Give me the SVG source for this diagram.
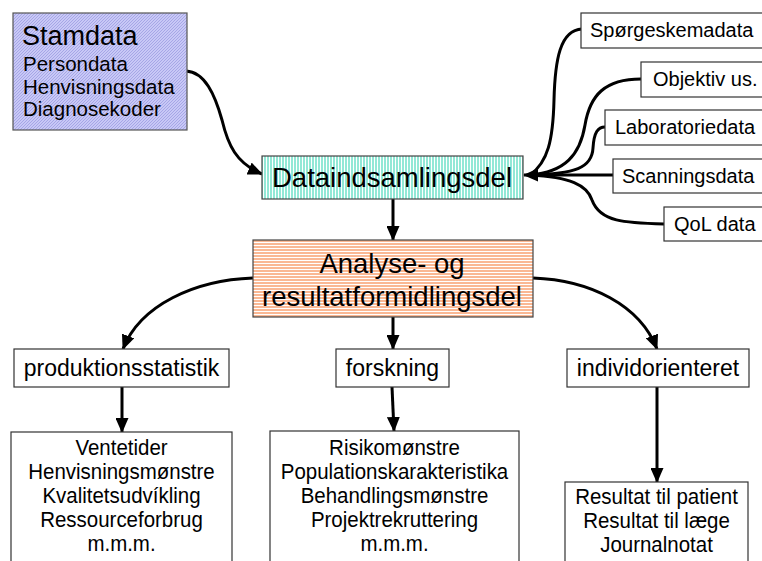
<svg xmlns="http://www.w3.org/2000/svg" width="762" height="561" viewBox="0 0 762 561">
  <style>
    text { font-family: "Liberation Sans", Arial, sans-serif; fill: #000; }
    .box { fill: #fff; stroke: #333; stroke-width: 1.2; }
    .wire { fill: none; stroke: #000; stroke-width: 3; }
    .mid { font-size: 23px; text-anchor: middle; }
    .src { font-size: 20px; }
    .list { font-size: 22.5px; text-anchor: middle; }
    .big { font-size: 27.5px; text-anchor: middle; }
  </style>
  <defs>
    <pattern id="hatchLavender" width="3" height="3" patternUnits="userSpaceOnUse">
      <rect width="3" height="3" fill="#c8c8f6"/>
      <path d="M0,3 L3,0" stroke="#a6a6e6" stroke-width="1"/>
    </pattern>
    <pattern id="stripeAqua" width="3" height="3" patternUnits="userSpaceOnUse">
      <rect width="3" height="3" fill="#ffffff"/>
      <rect width="2" height="3" fill="#92e8d6"/>
    </pattern>
    <pattern id="stripePeach" width="3" height="3" patternUnits="userSpaceOnUse">
      <rect width="3" height="3" fill="#ffffff"/>
      <rect width="3" height="2" fill="#fab894"/>
    </pattern>
    <marker id="head" markerWidth="15" markerHeight="13" refX="14" refY="6.5" orient="auto" markerUnits="userSpaceOnUse">
      <path d="M0,0 L15,6.5 L0,13 Z" fill="#000"/>
    </marker>
  </defs>

  <!-- connectors -->
  <g id="connectors">
    <path class="wire" d="M186,71 C205,72 215,95 222,120 C228,145 236,163 262,174" marker-end="url(#head)"/>
    <path class="wire" d="M582,29 C560,30 555,60 554,100 C553,140 548,162 530,175"/>
    <path class="wire" d="M641,79 C605,79 590,95 585,125 C580,155 565,172 530,175"/>
    <path class="wire" d="M605,127 C598,127 594,132 593,148 C592,168 575,174 530,175"/>
    <path class="wire" d="M664,224 C625,223 600,222 592,200 C587,185 570,177 530,175"/>
    <path class="wire" d="M613,175 L524,175" marker-end="url(#head)"/>
    <path class="wire" d="M393,199 L393,240" marker-end="url(#head)"/>
    <path class="wire" d="M253,278 C195,280 140,305 123,349" marker-end="url(#head)"/>
    <path class="wire" d="M533,278 C590,280 640,305 657,349" marker-end="url(#head)"/>
    <path class="wire" d="M393,317 L393,349" marker-end="url(#head)"/>
    <path class="wire" d="M122,387 L122,432" marker-end="url(#head)"/>
    <path class="wire" d="M392,387 L394,431" marker-end="url(#head)"/>
    <path class="wire" d="M657,387 L657,482" marker-end="url(#head)"/>
  </g>

  <g id="stamdata">
    <rect x="13" y="13" width="174" height="117" fill="url(#hatchLavender)" stroke="#555" stroke-width="1.2"/>
    <text x="22" y="45" style="font-size:27px">Stamdata</text>
    <text x="23" y="71" style="font-size:20.5px">Persondata</text>
    <text x="23" y="94" style="font-size:20.5px">Henvisningsdata</text>
    <text x="23" y="116" style="font-size:20.5px">Diagnosekoder</text>
  </g>

  <g id="dataindsamling">
    <rect x="262" y="156" width="261" height="43" fill="url(#stripeAqua)" stroke="#444" stroke-width="1.2"/>
    <text class="big" x="392" y="187">Dataindsamlingsdel</text>
  </g>

  <g id="analyse">
    <rect x="253" y="240" width="280" height="77" fill="url(#stripePeach)" stroke="#444" stroke-width="1.2"/>
    <text class="big" x="392" y="273">Analyse- og</text>
    <text class="big" x="392" y="306">resultatformidlingsdel</text>
  </g>

  <g id="spoergeskema">
    <rect class="box" x="581" y="13" width="190" height="35"/>
    <text class="src" x="590" y="37">Spørgeskemadata</text>
  </g>
  <g id="objektiv">
    <rect class="box" x="641" y="62" width="130" height="35"/>
    <text class="src" x="653" y="86">Objektiv us.</text>
  </g>
  <g id="laboratorie">
    <rect class="box" x="605" y="110" width="166" height="35"/>
    <text class="src" x="615" y="134">Laboratoriedata</text>
  </g>
  <g id="scanning">
    <rect class="box" x="613" y="159" width="158" height="34"/>
    <text class="src" x="622" y="183">Scanningsdata</text>
  </g>
  <g id="qol">
    <rect class="box" x="664" y="207" width="107" height="34"/>
    <text class="src" x="674" y="231">QoL data</text>
  </g>

  <g id="produktion">
    <rect class="box" x="14" y="349" width="215" height="38"/>
    <text class="mid" x="121.5" y="376">produktionsstatistik</text>
  </g>
  <g id="forskning">
    <rect class="box" x="336" y="349" width="113" height="38"/>
    <text class="mid" x="392.5" y="376">forskning</text>
  </g>
  <g id="individ">
    <rect class="box" x="567" y="349" width="182" height="38"/>
    <text class="mid" x="658" y="376">individorienteret</text>
  </g>

  <!-- list boxes: text set in a slightly condensed face -->
  <g id="produktion-liste">
    <rect class="box" x="11" y="432" width="221" height="140"/>
    <g transform="translate(121.5,0) scale(0.91,1)">
      <text class="list" x="0" y="455">Ventetider</text>
      <text class="list" x="0" y="479">Henvisningsmønstre</text>
      <text class="list" x="0" y="503">Kvalitetsudvíkling</text>
      <text class="list" x="0" y="527">Ressourceforbrug</text>
      <text class="list" x="0" y="551">m.m.m.</text>
    </g>
  </g>
  <g id="forskning-liste">
    <rect class="box" x="270" y="431" width="249" height="140"/>
    <g transform="translate(394.5,0) scale(0.91,1)">
      <text class="list" x="0" y="455">Risikomønstre</text>
      <text class="list" x="0" y="479">Populationskarakteristika</text>
      <text class="list" x="0" y="503">Behandlingsmønstre</text>
      <text class="list" x="0" y="527">Projektrekruttering</text>
      <text class="list" x="0" y="551">m.m.m.</text>
    </g>
  </g>
  <g id="individ-liste">
    <rect class="box" x="565" y="482" width="183" height="90"/>
    <g transform="translate(656.5,0) scale(0.91,1)">
      <text class="list" x="0" y="504">Resultat til patient</text>
      <text class="list" x="0" y="528">Resultat til læge</text>
      <text class="list" x="0" y="552">Journalnotat</text>
    </g>
  </g>
</svg>
